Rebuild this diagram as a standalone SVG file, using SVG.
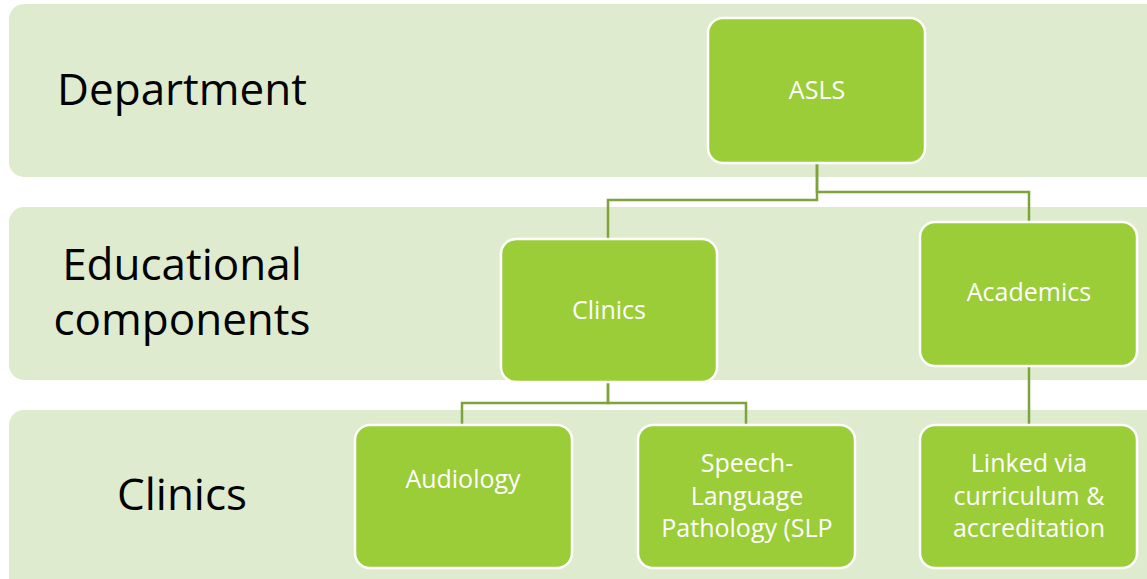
<svg xmlns="http://www.w3.org/2000/svg" width="1147" height="579" viewBox="0 0 1147 579">
<style>
.band{fill:#deebcf}
.box{fill:#9acd38;stroke:#ffffff;stroke-width:2.5}
.lbl{font-family:"Open Sans","Liberation Sans",sans-serif;font-size:44px;fill:#000;text-anchor:middle}
.txt{font-family:"Open Sans","Liberation Sans",sans-serif;font-size:25px;fill:#fff;text-anchor:middle}
.conn{fill:none;stroke:#7ea33a;stroke-width:2.5}
</style>
<rect width="1147" height="579" fill="#fff"/>
<g id="band-department"><rect class="band" x="9" y="4" width="1160" height="173" rx="15"/><text class="lbl" x="182" y="105">Department</text></g>
<g id="band-educational"><rect class="band" x="9" y="207" width="1160" height="173" rx="15"/><text class="lbl" x="182" y="280">Educational</text><text class="lbl" x="182" y="335">components</text></g>
<g id="band-clinics"><rect class="band" x="9" y="410" width="1160" height="190" rx="15"/><text class="lbl" x="182" y="510">Clinics</text></g>
<g id="connectors">
<path class="conn" d="M817 163 V200 H608 V239"/>
<path class="conn" d="M817 163 V192 H1029 V222"/>
<path class="conn" d="M608 382 V403 H462 V425"/>
<path class="conn" d="M608 382 V403 H746 V425"/>
<path class="conn" d="M1029 366 V425"/>
</g>
<g id="node-asls"><rect class="box" x="708" y="18" width="217" height="145" rx="15"/><text class="txt" x="817" y="99">ASLS</text></g>
<g id="node-clinics"><rect class="box" x="501" y="239" width="216" height="143" rx="15"/><text class="txt" x="609" y="319">Clinics</text></g>
<g id="node-academics"><rect class="box" x="920" y="222" width="217" height="144" rx="15"/><text class="txt" x="1029" y="301">Academics</text></g>
<g id="node-audiology"><rect class="box" x="355" y="425" width="217" height="143" rx="15"/><text class="txt" x="463" y="488">Audiology</text></g>
<g id="node-slp"><rect class="box" x="638" y="425" width="217" height="143" rx="15"/><text class="txt" x="747" y="472">Speech-</text><text class="txt" x="747" y="505">Language</text><text class="txt" x="747" y="537">Pathology (SLP</text></g>
<g id="node-linked"><rect class="box" x="920" y="425" width="217" height="143" rx="15"/><text class="txt" x="1029" y="472">Linked via</text><text class="txt" x="1029" y="505">curriculum &amp;</text><text class="txt" x="1029" y="537">accreditation</text></g>
</svg>
